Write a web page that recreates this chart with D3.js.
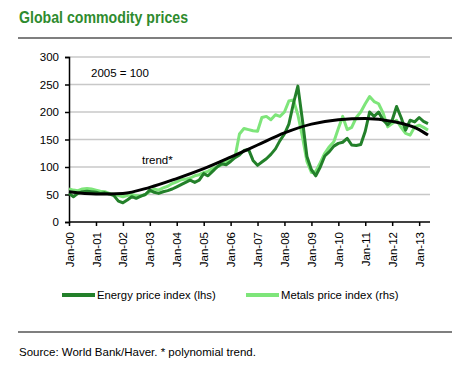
<!DOCTYPE html>
<html>
<head>
<meta charset="utf-8">
<script src="https://cdn.jsdelivr.net/npm/d3@7"></script>
<style>
  body { margin: 0; background: #fff; }
  text { font-family: "Liberation Sans", Arial, sans-serif; }
</style>
</head>
<body>
<div id="chart"></div>
<script>
// bi-monthly readings, Jan 2000 -> May 2013
var months = ["2000-01","2000-03","2000-05","2000-07","2000-09","2000-11",
  "2001-01","2001-03","2001-05","2001-07","2001-09","2001-11",
  "2002-01","2002-03","2002-05","2002-07","2002-09","2002-11",
  "2003-01","2003-03","2003-05","2003-07","2003-09","2003-11",
  "2004-01","2004-03","2004-05","2004-07","2004-09","2004-11",
  "2005-01","2005-03","2005-05","2005-07","2005-09","2005-11",
  "2006-01","2006-03","2006-05","2006-07","2006-09","2006-11",
  "2007-01","2007-03","2007-05","2007-07","2007-09","2007-11",
  "2008-01","2008-03","2008-05","2008-07","2008-09","2008-11",
  "2009-01","2009-03","2009-05","2009-07","2009-09","2009-11",
  "2010-01","2010-03","2010-05","2010-07","2010-09","2010-11",
  "2011-01","2011-03","2011-05","2011-07","2011-09","2011-11",
  "2012-01","2012-03","2012-05","2012-07","2012-09","2012-11",
  "2013-01","2013-03","2013-05"];

var energy = [52,46,52,55,56,55,
  54,52,53,51,48,38,
  35,40,46,43,47,50,
  58,54,52,55,57,60,
  64,68,72,76,72,76,
  88,84,92,100,106,104,
  110,117,122,130,132,112,
  103,109,115,123,133,148,
  160,178,215,247,185,119,
  95,84,100,120,128,138,
  143,145,152,140,139,141,
  165,200,192,200,185,177,
  185,210,190,167,185,182,
  190,183,179];

var metals = [60,58,57,60,61,60,
  58,56,55,52,50,48,
  46,48,50,48,47,50,
  55,60,58,62,65,70,
  73,77,78,80,84,86,
  90,92,97,100,104,110,
  113,118,160,170,168,166,
  165,190,192,186,195,192,
  200,220,222,195,155,110,
  90,92,108,125,137,146,
  170,192,168,172,190,200,
  215,228,219,215,198,173,
  179,185,172,161,158,173,
  176,172,167];

// polynomial trend, read at a few points
var trendMonths = ["2000-01","2001-01","2002-01","2003-01","2004-01","2005-01","2006-01",
  "2007-01","2008-01","2009-01","2010-01","2011-01","2012-01","2013-01","2013-05"];
var trendValues = [55,51,52,63,79,97,118,140,162,178,186,188,183,168,158];

var yTicks = [0,50,100,150,200,250,300];

var width = 467, height = 365;
var parse = d3.timeParse("%Y-%m");

var svg = d3.select("#chart")
    .append("svg")
    .attr("width", width)
    .attr("height", height);

var x = d3.scaleTime()
    .domain([parse("2000-01"), parse("2013-05")])
    .range([69, 428]);

var y = d3.scaleLinear()
    .domain([0, 300])
    .range([222, 57]);

// title + rules
svg.append("text")
    .attr("x", 19)
    .attr("y", 23)
    .attr("font-size", 17)
    .attr("font-weight", "bold")
    .attr("fill", "#2e8b2e")
    .attr("textLength", 169)
    .attr("lengthAdjust", "spacingAndGlyphs")
    .text("Global commodity prices");

svg.append("line")
    .attr("x1", 18).attr("x2", 452)
    .attr("y1", 38).attr("y2", 38)
    .attr("stroke", "#555").attr("stroke-width", 1.5);

svg.append("line")
    .attr("x1", 18).attr("x2", 452)
    .attr("y1", 332).attr("y2", 332)
    .attr("stroke", "#555").attr("stroke-width", 1.5);

// gridlines
svg.selectAll(".grid")
    .data(yTicks.filter(function(d){ return d > 0; }))
    .enter()
        .append("line")
        .attr("class", "grid")
        .attr("x1", 69).attr("x2", 430)
        .attr("y1", function(d){ return y(d); })
        .attr("y2", function(d){ return y(d); })
        .attr("stroke", "#c8c8c8")
        .attr("stroke-width", 1.5);

// y axis
var yAxis = svg.append("g")
    .attr("transform", "translate(69,0)")
    .call(d3.axisLeft(y).tickValues(yTicks).tickSize(4).tickPadding(6));
yAxis.select(".domain").attr("stroke", "#000").attr("stroke-width", 1.5);
yAxis.selectAll("line").attr("stroke", "#000").attr("stroke-width", 1.5);
yAxis.selectAll("text").attr("font-size", 11.5).attr("fill", "#000")
    .attr("font-family", "Liberation Sans, Arial, sans-serif");

// x axis
var xAxis = svg.append("g")
    .attr("transform", "translate(0,222)")
    .call(d3.axisBottom(x)
        .ticks(d3.timeYear.every(1))
        .tickFormat(d3.timeFormat("%b-%y"))
        .tickSize(4)
        .tickSizeOuter(0));
xAxis.select(".domain").attr("d", "M69,0H430").attr("stroke", "#000").attr("stroke-width", 1.5);
xAxis.selectAll("line").attr("stroke", "#000").attr("stroke-width", 1.5);
xAxis.selectAll("text")
    .attr("font-size", 11.5)
    .attr("fill", "#000")
    .attr("font-family", "Liberation Sans, Arial, sans-serif")
    .attr("transform", "rotate(-90)")
    .attr("text-anchor", "end")
    .attr("x", -10)
    .attr("y", 0)
    .attr("dy", "0.35em");

// series
var energyData = months.map(function(m, i){ return {date: parse(m), value: energy[i]}; });
var metalsData = months.map(function(m, i){ return {date: parse(m), value: metals[i]}; });
var trendData = trendMonths.map(function(m, i){ return {date: parse(m), value: trendValues[i]}; });

var line = d3.line()
    .x(function(d){ return x(d.date); })
    .y(function(d){ return y(d.value); });

var smooth = d3.line()
    .curve(d3.curveMonotoneX)
    .x(function(d){ return x(d.date); })
    .y(function(d){ return y(d.value); });

svg.append("path")
    .datum(metalsData)
    .attr("d", line)
    .attr("fill", "none")
    .attr("stroke", "#7ee57a")
    .attr("stroke-width", 3)
    .attr("stroke-linejoin", "round");

svg.append("path")
    .datum(energyData)
    .attr("d", line)
    .attr("fill", "none")
    .attr("stroke", "#23802a")
    .attr("stroke-width", 3)
    .attr("stroke-linejoin", "round");

svg.append("path")
    .datum(trendData)
    .attr("d", smooth)
    .attr("fill", "none")
    .attr("stroke", "#000")
    .attr("stroke-width", 3);

// annotations
svg.append("text")
    .attr("x", 91).attr("y", 77)
    .attr("font-size", 11.5)
    .text("2005 = 100");

svg.append("text")
    .attr("x", 142).attr("y", 164)
    .attr("font-size", 11.5)
    .text("trend*");

// legend
var legend = [
    {label: "Energy price index (lhs)", color: "#23802a", x: 62},
    {label: "Metals price index (rhs)", color: "#7ee57a", x: 246}
];

var lg = svg.selectAll(".legend")
    .data(legend)
    .enter()
        .append("g")
        .attr("class", "legend")
        .attr("transform", function(d){ return "translate(" + d.x + ",295)"; });

lg.append("line")
    .attr("x1", 0).attr("x2", 33)
    .attr("y1", 0).attr("y2", 0)
    .attr("stroke", function(d){ return d.color; })
    .attr("stroke-width", 4);

lg.append("text")
    .attr("x", 35)
    .attr("y", 4)
    .attr("font-size", 11.3)
    .text(function(d){ return d.label; });

// source
svg.append("text")
    .attr("x", 19).attr("y", 356)
    .attr("font-size", 11.5)
    .text("Source: World Bank/Haver. * polynomial trend.");
</script>
</body>
</html>
